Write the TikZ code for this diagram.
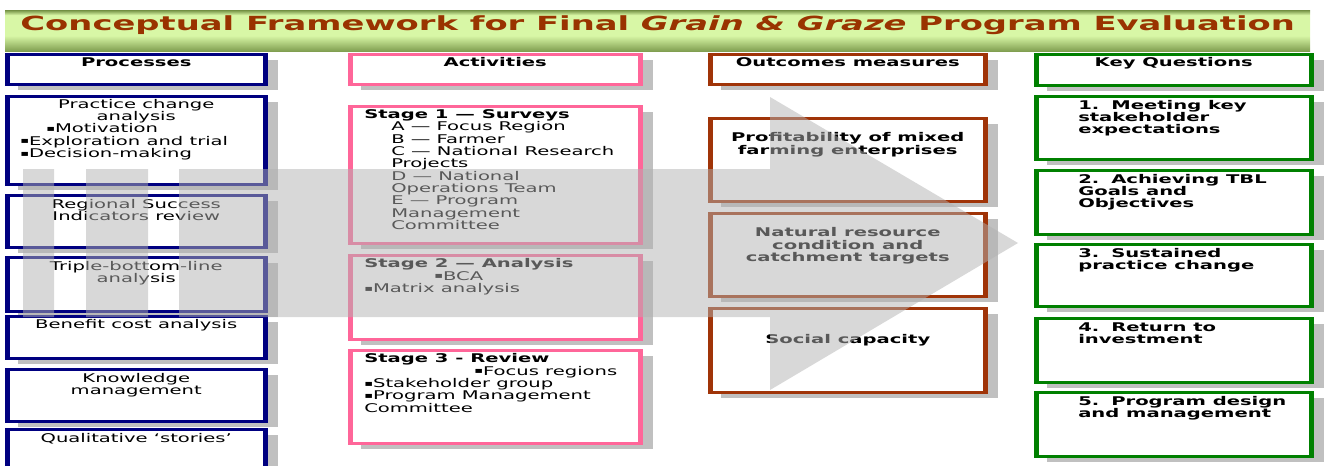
\documentclass[tikz,border=0pt]{standalone}
\usepackage{fontspec}
\setmainfont{DejaVu Sans}[FakeStretch=1.63]
\usetikzlibrary{shadows}

\definecolor{procblue}{RGB}{0,0,128}
\definecolor{actpink}{RGB}{255,102,153}
\definecolor{outbrown}{RGB}{160,52,8}
\definecolor{keygreen}{RGB}{0,128,0}
\definecolor{titlebrown}{RGB}{153,51,0}
\definecolor{shadowgray}{RGB}{192,192,192}
\definecolor{arrowgray}{RGB}{178,178,178}
\definecolor{bannertop}{RGB}{118,148,70}
\definecolor{bannerlight}{RGB}{216,247,166}
\definecolor{bannerbot}{RGB}{128,158,80}

\pgfdeclareverticalshading{bannershade}{100bp}{color(0bp)=(bannerbot); color(25bp)=(bannerbot); color(44bp)=(bannerlight); color(69bp)=(bannerlight); color(75bp)=(bannertop); color(100bp)=(bannertop)}

\tikzstyle{banner} = [anchor=north west, inner sep=0pt, shade, shading=bannershade]
\tikzset{box/.style={fill=white, draw=#1, line width=2.5pt, anchor=north west, inner sep=0pt,
  path picture={\fill[#1] (path picture bounding box.north west) rectangle ([xshift=3.5pt]path picture bounding box.south west);
    \fill[#1] (path picture bounding box.north east) rectangle ([xshift=-3.5pt]path picture bounding box.south east);},
  drop shadow={shadow xshift=12pt, shadow yshift=-6pt, fill=shadowgray, opacity=1, path picture={}}}}
\tikzstyle{procbox} = [box=procblue]
\tikzstyle{actbox} = [box=actpink]
\tikzstyle{outcbox} = [box=outbrown]
\tikzstyle{keybox} = [box=keygreen]

% width, height, text of one box
\newcommand{\boxtext}[3]{\parbox[c][#2pt][t]{#1pt}{\fontsize{12}{12.3}\selectfont #3}}
\newcommand{\bul}{\raisebox{1.3pt}{\fontsize{8}{8}\selectfont ▪}}

\begin{document}
\begin{tikzpicture}[x=1pt, y=-1pt]
\useasboundingbox (0,0) rectangle (1326,466);
%title
\node[banner] (title) at (5,10) {\boxtext{1305}{41}{\vspace*{5pt}\centering
  \fontsize{19.5}{20}\selectfont\bfseries\color{titlebrown}\scalebox{1.063}[1]{Conceptual Framework for Final \textit{Grain \& Graze} Program Evaluation}}};
%begin processes
\node[procbox] (hdrProc) at (5,53) {\boxtext{260}{30}{\vspace*{3pt}\centering\bfseries Processes}};
\node[procbox] (procPractice) at (5,95) {\boxtext{260}{88}{\vspace*{3pt}{\centering Practice change\\analysis\par}
  \raggedright\leftskip=14pt \hspace*{26pt}\bul Motivation\\\bul Exploration and trial\\\bul Decision-making}};
\node[procbox] (procRegional) at (5,194) {\boxtext{260}{52}{\vspace*{4pt}\centering Regional Success\\Indicators review}};
\node[procbox] (procTBL) at (5,256) {\boxtext{260}{54}{\vspace*{4pt}\centering Triple-bottom-line\\analysis}};
\node[procbox] (procBCA) at (5,315) {\boxtext{260}{42}{\vspace*{3.5pt}\centering Benefit cost analysis}};
\node[procbox] (procKnow) at (5,368) {\boxtext{260}{52}{\vspace*{4pt}\centering Knowledge\\management}};
\node[procbox] (procStories) at (5,428) {\boxtext{260}{46}{\vspace*{4.5pt}\centering Qualitative ‘stories’}};
%end processes
%begin activities
\node[actbox] (hdrAct) at (348,53) {\boxtext{292}{30}{\vspace*{3pt}\centering\bfseries Activities}};
\node[actbox] (actStage1) at (348,105) {\boxtext{292}{137}{\vspace*{3.5pt}\raggedright\leftskip=15pt
  {\bfseries Stage 1 — Surveys}\par
  \leftskip=42pt A — Focus Region\\B — Farmer\\C — National Research\\Projects\\D — National\\Operations Team\\E — Program\\Management\\Committee}};
\node[actbox] (actStage2) at (348,254) {\boxtext{292}{84}{\vspace*{3.5pt}\raggedright\leftskip=15pt
  {\bfseries Stage 2 — Analysis}\\\hspace*{70pt}\bul BCA\\\bul Matrix analysis}};
\node[actbox] (actStage3) at (348,349) {\boxtext{292}{93}{\vspace*{3.5pt}\raggedright\leftskip=15pt
  {\bfseries Stage 3 - Review}\\\hspace*{110pt}\bul Focus regions\\\bul Stakeholder group\\\bul Program Management\\Committee}};
%end activities
%begin outcomes
\node[outcbox] (hdrOut) at (708,53) {\boxtext{277}{30}{\vspace*{3pt}\centering\bfseries Outcomes measures}};
\node[outcbox] (outProfit) at (708,117) {\boxtext{277}{83}{\vspace*{14.5pt}\centering\bfseries Profitability of mixed\\farming enterprises}};
\node[outcbox] (outNatural) at (708,212) {\boxtext{277}{83}{\vspace*{14.5pt}\centering\bfseries Natural resource\\condition and\\catchment targets}};
\node[outcbox] (outSocial) at (708,307) {\boxtext{277}{84}{\vspace*{26.5pt}\centering\bfseries Social capacity}};
%end outcomes
%begin key questions
\node[keybox] (hdrKey) at (1034,53) {\boxtext{277}{31}{\vspace*{3pt}\centering\bfseries Key Questions}};
\node[keybox] (keyQ1) at (1034,95) {\boxtext{277}{63}{\vspace*{4pt}\raggedright\leftskip=43pt\bfseries
  1.\hspace{12pt}Meeting key\\stakeholder\\expectations}};
\node[keybox] (keyQ2) at (1034,169) {\boxtext{277}{64}{\vspace*{4pt}\raggedright\leftskip=43pt\bfseries
  2.\hspace{12pt}Achieving TBL\\Goals and\\Objectives}};
\node[keybox] (keyQ3) at (1034,243) {\boxtext{277}{62}{\vspace*{4pt}\raggedright\leftskip=43pt\bfseries
  3.\hspace{12pt}Sustained\\practice change}};
\node[keybox] (keyQ4) at (1034,317) {\boxtext{277}{64}{\vspace*{4pt}\raggedright\leftskip=43pt\bfseries
  4.\hspace{12pt}Return to\\investment}};
\node[keybox] (keyQ5) at (1034,391) {\boxtext{277}{64}{\vspace*{4pt}\raggedright\leftskip=43pt\bfseries
  5.\hspace{12pt}Program design\\and management}};
%end key questions
%striped arrow over the columns
\fill[arrowgray, opacity=0.5] (23,169) rectangle (54,317) (86,169) rectangle (148,317)
  (179,169) -- (770,169) -- (770,97) -- (1018,243) -- (770,390) -- (770,317) -- (179,317) -- cycle;
\end{tikzpicture}
\end{document}
